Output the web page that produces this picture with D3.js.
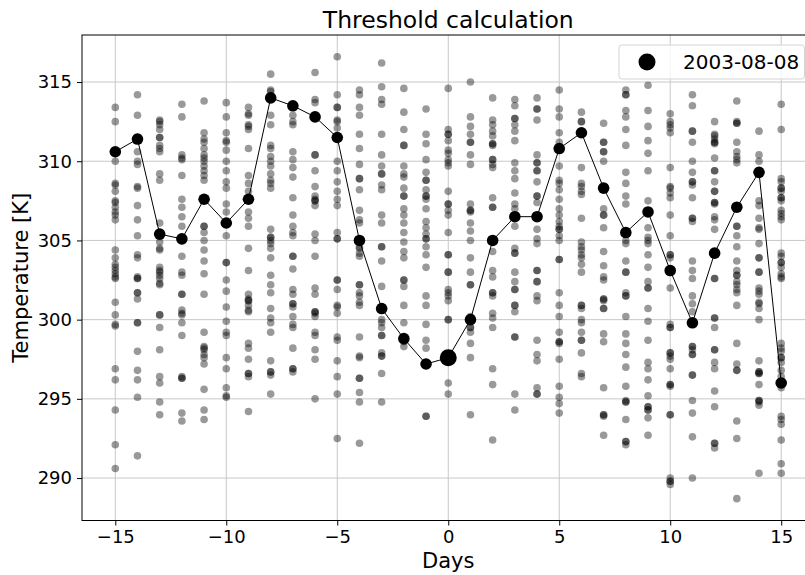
<!DOCTYPE html>
<html>
<head>
<meta charset="utf-8">
<script src="https://cdn.jsdelivr.net/npm/d3@7"></script>
<style>
  body { margin: 0; background: #fff; }
  text { font-family: "DejaVu Sans", sans-serif; fill: #000; }
</style>
</head>
<body>
<svg id="chart"></svg>
<script>
const width = 805;
const height = 575;

const days = [-15, -14, -13, -12, -11, -10, -9, -8, -7, -6, -5, -4, -3, -2, -1, 0,
    1, 2, 3, 4, 5, 6, 7, 8, 9, 10, 11, 12, 13, 14, 15];

// temperature of the event year for each day
const thresholdValues = [310.6, 311.4, 305.4, 305.1, 307.6, 306.1, 307.6, 314.0, 313.5, 312.8,
    311.5, 305.0, 300.7, 298.8, 297.2, 297.6, 300.0, 305.0, 306.5, 306.5, 310.8, 311.8,
    308.3, 305.5, 306.8, 303.1, 299.8, 304.2, 307.1, 309.3, 296.0];

// all other years, one list per day
const sampleValues = [
    [313.4, 312.5, 310.5, 310.0, 308.6, 308.5, 308.1, 307.5, 307.4, 307.1, 306.8, 306.6, 306.3, 304.4, 303.9, 303.5, 303.3, 303.1, 302.9, 302.7, 302.6, 301.1, 300.3, 299.7, 299.6, 296.9, 296.2, 294.3, 292.1, 290.6],
    [314.2, 312.9, 311.5, 310.6, 310.0, 309.8, 308.4, 308.3, 307.2, 306.3, 305.3, 304.1, 303.9, 302.7, 302.6, 302.6, 301.7, 301.7, 301.3, 299.8, 299.8, 298.0, 296.8, 296.2, 295.1, 291.4],
    [312.6, 312.5, 312.3, 312.0, 311.5, 311.5, 311.0, 310.8, 310.6, 309.2, 308.8, 306.1, 305.4, 304.9, 304.5, 304.4, 303.3, 303.1, 303.0, 302.8, 302.6, 302.3, 302.2, 300.3, 300.3, 299.5, 298.1, 296.4, 296.0, 294.8, 294.0],
    [313.6, 312.8, 310.4, 310.2, 310.1, 309.1, 307.6, 307.1, 306.5, 305.9, 305.1, 304.0, 303.0, 302.8, 301.6, 301.6, 300.6, 300.4, 300.3, 299.8, 299.0, 296.4, 296.3, 296.3, 294.1, 293.6],
    [313.8, 311.8, 311.4, 311.2, 310.8, 310.4, 310.2, 310.0, 309.7, 309.4, 309.1, 308.8, 307.6, 305.9, 305.9, 305.5, 305.0, 304.4, 303.7, 302.9, 301.6, 299.2, 298.3, 298.2, 298.1, 297.8, 297.6, 297.2, 295.6, 294.3, 293.7],
    [313.7, 312.8, 311.8, 311.3, 311.2, 310.7, 310.0, 309.4, 308.7, 308.3, 307.3, 306.8, 306.1, 305.3, 303.6, 303.6, 302.5, 301.8, 300.8, 299.9, 299.2, 299.0, 297.6, 296.9, 295.7, 295.2, 295.1],
    [313.4, 313.0, 312.9, 312.3, 312.2, 312.0, 310.8, 309.1, 308.6, 308.1, 307.6, 306.8, 306.4, 305.9, 304.5, 303.1, 301.6, 301.3, 301.2, 301.2, 300.9, 300.6, 300.5, 298.5, 298.2, 297.5, 296.6, 296.6, 296.4, 294.2],
    [315.5, 314.5, 314.4, 314.0, 312.9, 312.3, 311.0, 310.8, 310.3, 310.0, 309.7, 309.2, 308.8, 308.6, 308.3, 305.7, 305.2, 305.2, 305.0, 304.8, 304.5, 303.9, 302.8, 302.2, 301.7, 300.7, 300.1, 299.8, 299.2, 297.4, 296.7, 296.7, 296.5, 295.3],
    [313.5, 312.9, 312.5, 312.3, 310.6, 310.1, 309.6, 309.0, 307.7, 306.6, 305.9, 305.5, 305.3, 304.0, 304.0, 303.2, 301.9, 301.6, 301.0, 301.0, 300.8, 300.2, 299.7, 299.5, 298.2, 296.9, 296.9, 296.7],
    [315.6, 313.9, 313.7, 312.8, 310.4, 310.4, 309.4, 308.4, 307.8, 307.6, 307.5, 307.5, 307.2, 305.4, 305.0, 304.0, 302.0, 301.6, 300.5, 300.5, 300.4, 300.2, 299.2, 299.0, 298.1, 297.5, 295.0],
    [316.6, 314.2, 313.4, 313.4, 312.6, 312.5, 312.1, 311.5, 310.0, 309.4, 308.7, 308.1, 307.6, 307.2, 305.5, 305.1, 305.1, 302.5, 302.5, 301.9, 300.9, 300.8, 300.4, 298.9, 298.7, 297.4, 296.4, 295.3, 292.5],
    [314.5, 314.2, 313.4, 312.9, 311.7, 310.8, 309.8, 308.9, 308.9, 308.2, 306.9, 306.3, 306.1, 305.0, 304.6, 304.5, 304.2, 304.0, 302.2, 302.2, 301.7, 301.5, 301.1, 300.9, 298.9, 297.7, 297.6, 296.3, 296.3, 295.4, 294.8, 292.2],
    [316.2, 314.7, 313.9, 313.6, 311.7, 310.4, 309.7, 309.2, 309.2, 308.5, 308.2, 306.6, 306.1, 304.6, 304.6, 303.7, 302.1, 300.7, 300.0, 299.8, 299.5, 299.0, 299.0, 297.9, 297.7, 297.7, 296.6, 294.8],
    [314.6, 313.1, 312.0, 311.0, 311.0, 309.7, 309.2, 309.0, 308.3, 307.8, 307.8, 307.0, 306.6, 306.1, 305.5, 304.9, 304.3, 303.9, 302.5, 302.5, 302.1, 300.9, 299.8, 298.8, 298.6, 298.3],
    [313.3, 311.7, 311.1, 310.1, 309.3, 308.8, 308.8, 308.2, 307.8, 307.8, 307.6, 307.0, 306.2, 305.8, 305.4, 305.1, 305.1, 304.6, 304.1, 303.3, 301.5, 300.9, 299.7, 298.7, 298.2, 297.2, 293.9, 293.9],
    [314.6, 312.0, 311.7, 311.7, 311.3, 310.7, 310.5, 310.1, 309.9, 309.7, 308.1, 307.3, 307.3, 306.9, 306.6, 305.5, 304.1, 304.1, 303.0, 303.0, 301.9, 301.7, 301.5, 301.2, 300.0, 300.0, 297.6, 296.0, 295.3],
    [315.0, 312.8, 312.2, 311.7, 311.2, 311.2, 310.4, 309.8, 307.3, 306.9, 306.9, 306.8, 306.1, 305.6, 305.0, 303.9, 303.0, 302.2, 302.2, 300.2, 300.0, 299.5, 299.5, 299.2, 298.5, 297.6, 294.0],
    [314.0, 312.6, 312.3, 311.9, 311.6, 311.1, 311.1, 311.0, 310.1, 310.1, 309.8, 309.6, 307.7, 307.1, 307.1, 305.0, 304.3, 303.1, 302.7, 301.7, 301.7, 301.5, 300.4, 300.1, 299.5, 296.9, 295.9, 292.4],
    [313.9, 313.5, 312.7, 312.7, 312.3, 311.9, 311.3, 309.9, 309.4, 308.9, 308.0, 307.3, 307.0, 306.5, 305.9, 304.5, 304.2, 304.2, 303.0, 302.4, 301.9, 301.9, 300.9, 300.9, 300.5, 298.9, 298.9, 295.3, 294.3],
    [314.0, 313.3, 313.3, 312.6, 310.4, 309.9, 309.9, 309.4, 309.4, 308.7, 307.8, 307.8, 307.4, 306.5, 305.7, 305.1, 304.8, 303.1, 303.1, 302.4, 302.4, 301.5, 301.2, 298.7, 297.8, 297.4, 295.7, 295.3, 295.3],
    [314.5, 313.3, 312.8, 311.8, 311.2, 310.8, 309.7, 308.8, 308.6, 308.2, 307.6, 307.0, 306.6, 306.2, 305.9, 305.7, 305.7, 305.3, 305.0, 303.8, 303.8, 301.7, 300.9, 300.2, 299.2, 298.6, 298.6, 298.5, 297.5, 295.8, 295.1, 294.7, 294.1],
    [313.1, 312.5, 312.5, 311.8, 309.6, 308.6, 308.4, 308.1, 307.9, 306.4, 304.9, 304.6, 304.4, 304.1, 303.9, 303.5, 303.0, 300.9, 300.9, 300.7, 300.0, 299.8, 299.2, 298.7, 298.7, 297.9, 296.6, 296.4],
    [312.4, 311.2, 311.2, 310.6, 310.6, 310.0, 308.3, 307.0, 306.6, 306.6, 305.8, 304.3, 303.4, 302.7, 302.5, 301.3, 301.3, 301.2, 300.7, 300.7, 299.1, 298.6, 295.7, 294.0, 294.0, 293.9, 292.7],
    [314.5, 314.2, 314.2, 313.2, 312.8, 312.0, 311.0, 309.3, 308.6, 307.8, 307.3, 305.5, 305.0, 304.8, 303.7, 303.0, 303.0, 301.7, 301.5, 301.5, 300.2, 299.1, 298.5, 297.8, 297.0, 295.8, 294.9, 294.8, 294.8, 293.7, 292.3, 292.3, 292.1],
    [314.8, 313.2, 312.2, 311.3, 310.5, 309.4, 307.5, 306.8, 305.8, 305.2, 305.0, 304.8, 304.1, 303.3, 302.4, 302.0, 302.0, 300.7, 299.9, 298.7, 297.3, 296.9, 296.2, 295.2, 294.5, 294.5, 294.3, 294.3, 293.8, 292.7],
    [313.0, 312.5, 312.3, 312.1, 311.8, 309.6, 308.4, 308.3, 308.0, 307.7, 306.6, 305.3, 304.1, 304.1, 303.9, 303.1, 302.0, 299.7, 299.5, 299.5, 297.9, 297.9, 297.7, 297.5, 296.9, 295.9, 295.9, 295.8, 294.0, 294.0, 290.0, 289.8, 289.8, 289.6],
    [314.2, 313.5, 311.9, 311.9, 311.2, 310.0, 309.3, 308.7, 308.7, 308.5, 307.7, 306.4, 306.4, 306.2, 303.7, 303.1, 302.6, 301.5, 301.0, 300.5, 299.8, 298.3, 298.3, 298.1, 297.8, 297.8, 296.5, 296.5, 294.9, 294.1, 292.6, 290.0],
    [312.5, 311.7, 311.6, 311.4, 311.2, 311.2, 311.1, 310.2, 309.4, 309.4, 308.7, 308.1, 308.1, 307.4, 307.4, 307.3, 306.5, 306.3, 305.7, 304.2, 302.6, 302.6, 300.1, 300.1, 299.5, 298.1, 298.1, 297.3, 296.9, 295.5, 294.5, 292.2, 292.2, 291.9],
    [313.8, 312.5, 312.4, 312.4, 311.2, 310.6, 310.3, 310.1, 309.9, 307.1, 305.9, 305.9, 305.3, 304.6, 303.7, 303.1, 302.8, 302.8, 302.4, 302.2, 301.9, 301.7, 300.9, 298.5, 297.2, 296.8, 296.8, 293.6, 292.5, 288.7],
    [311.9, 310.4, 310.0, 309.3, 307.5, 307.2, 306.4, 305.8, 305.7, 304.8, 303.9, 303.9, 303.0, 303.0, 302.0, 301.8, 301.6, 301.1, 301.0, 300.7, 300.0, 297.4, 296.7, 296.7, 296.6, 296.6, 295.9, 294.9, 294.9, 294.8, 294.6, 290.3],
    [313.6, 312.0, 308.9, 308.7, 308.3, 308.3, 308.1, 307.7, 307.7, 307.5, 306.9, 306.7, 306.5, 306.3, 304.2, 304.0, 303.6, 303.6, 303.3, 302.9, 302.7, 302.6, 298.5, 298.2, 298.0, 297.6, 297.6, 297.3, 296.8, 296.4, 296.0, 295.7, 293.9, 293.7, 293.4, 292.4, 290.9, 290.3]
];

const eventDay = 0;
const eventLabel = "2003-08-08";
const xTicks = [-15, -10, -5, 0, 5, 10, 15];
const yTicks = [290, 295, 300, 305, 310, 315];

const svg = d3.select("#chart").attr("width", width).attr("height", height);

const plotLeft = 82, plotRight = 814.5, plotTop = 35, plotBottom = 520.5;

const x = d3.scaleLinear().domain([-16.5, 16.5]).range([plotLeft, plotRight]);
const y = d3.scaleLinear().domain([287.32, 317.97]).range([plotBottom, plotTop]);

// grid
svg.append("g").selectAll("line").data(xTicks).enter().append("line")
    .attr("x1", d => x(d)).attr("x2", d => x(d))
    .attr("y1", plotTop).attr("y2", plotBottom)
    .attr("stroke", "#c8c8c8").attr("stroke-width", 1);
svg.append("g").selectAll("line").data(yTicks).enter().append("line")
    .attr("x1", plotLeft).attr("x2", plotRight)
    .attr("y1", d => y(d)).attr("y2", d => y(d))
    .attr("stroke", "#c8c8c8").attr("stroke-width", 1);

// scatter of all other years
const points = [];
days.forEach(function (day, i) {
    sampleValues[i].forEach(v => points.push({ day: day, value: v }));
});

svg.append("g").selectAll("circle")
    .data(points)
    .enter()
    .append("circle")
    .attr("cx", d => x(d.day))
    .attr("cy", d => y(d.value))
    .attr("r", 3.8)
    .attr("fill", "#000")
    .attr("fill-opacity", 0.4);

// event year line
const line = d3.line()
    .x((d, i) => x(days[i]))
    .y(d => y(d));

svg.append("path")
    .datum(thresholdValues)
    .attr("d", line)
    .attr("fill", "none")
    .attr("stroke", "#000")
    .attr("stroke-width", 1);

svg.append("g").selectAll("circle")
    .data(thresholdValues)
    .enter()
    .append("circle")
    .attr("cx", (d, i) => x(days[i]))
    .attr("cy", d => y(d))
    .attr("r", (d, i) => days[i] === eventDay ? 8.5 : 5.8)
    .attr("fill", "#000");

// spines
svg.append("rect")
    .attr("x", plotLeft).attr("y", plotTop)
    .attr("width", plotRight - plotLeft).attr("height", plotBottom - plotTop)
    .attr("fill", "none").attr("stroke", "#000").attr("stroke-width", 1);

// axes
const xAxis = svg.append("g")
    .attr("transform", `translate(0,${plotBottom})`)
    .call(d3.axisBottom(x).tickValues(xTicks).tickSize(5).tickPadding(5).tickSizeOuter(0));
const yAxis = svg.append("g")
    .attr("transform", `translate(${plotLeft},0)`)
    .call(d3.axisLeft(y).tickValues(yTicks).tickSize(5).tickPadding(5).tickSizeOuter(0));

[xAxis, yAxis].forEach(function (a) {
    a.select(".domain").remove();
    a.selectAll("text").attr("font-size", 18).attr("font-family", "DejaVu Sans");
});

// labels
svg.append("text")
    .attr("x", (plotLeft + plotRight) / 2).attr("y", 28)
    .attr("text-anchor", "middle")
    .attr("font-size", 23.5)
    .text("Threshold calculation");

svg.append("text")
    .attr("x", (plotLeft + plotRight) / 2).attr("y", 568)
    .attr("text-anchor", "middle")
    .attr("font-size", 21)
    .text("Days");

svg.append("text")
    .attr("transform", `translate(27.5,${(plotTop + plotBottom) / 2}) rotate(-90)`)
    .attr("text-anchor", "middle")
    .attr("font-size", 21)
    .text("Temperature [K]");

// legend
const legend = svg.append("g");
legend.append("rect")
    .attr("x", 619).attr("y", 45)
    .attr("width", 185.5).attr("height", 34)
    .attr("rx", 3)
    .attr("fill", "#fff").attr("fill-opacity", 0.8)
    .attr("stroke", "#d5d5d5");
legend.append("circle")
    .attr("cx", 647).attr("cy", 62)
    .attr("r", 8.5)
    .attr("fill", "#000");
legend.append("text")
    .attr("x", 683).attr("y", 68.5)
    .attr("font-size", 20)
    .text(eventLabel);
</script>
</body>
</html>
